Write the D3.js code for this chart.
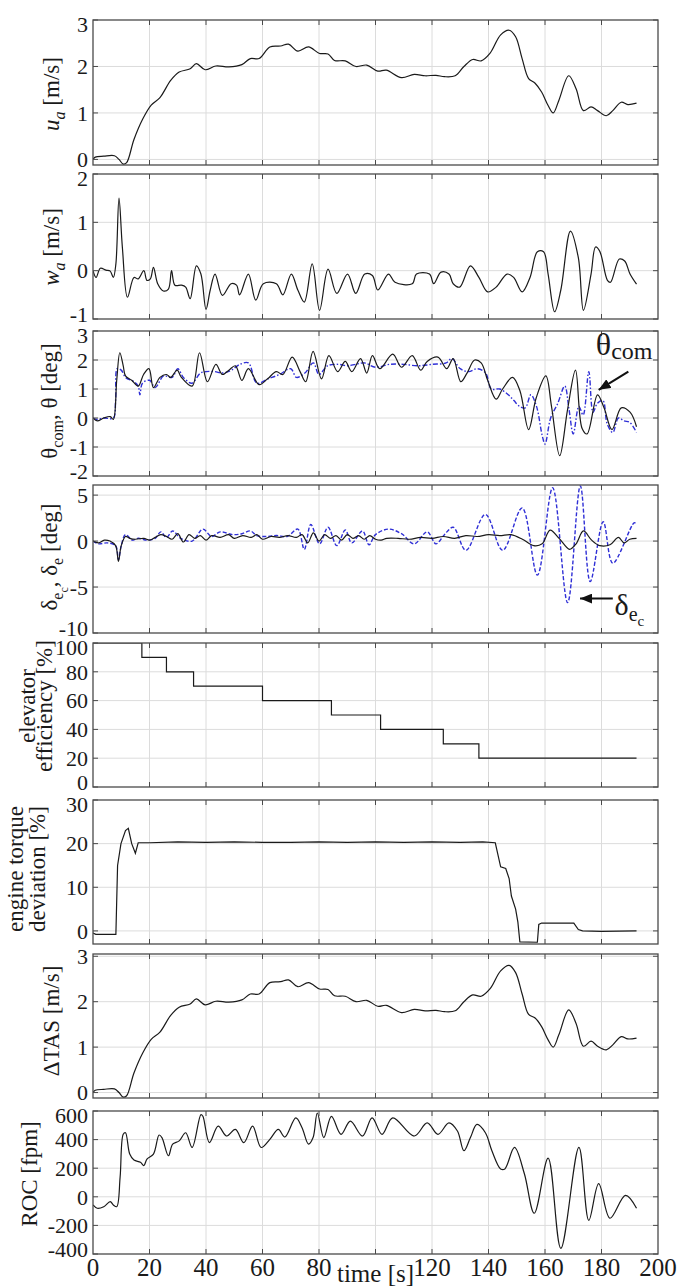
<!DOCTYPE html>
<html>
<head>
<meta charset="utf-8">
<script src="https://cdn.jsdelivr.net/npm/d3@7"></script>
<style>
body{margin:0;background:#fff;}
</style>
</head>
<body>
<svg id="chart" width="678" height="1286"></svg>
<script>
// time axis
let xTicks=[0,20,40,60,80,100,120,140,160,180,200];

// u_a [m/s]
let uaT=[0,0.8,3.8,7.6,9.2,10.7,11.9,14.5,17.6,20.6,23.7,27.5,30.5,34.4,36.6,39.7,43.5,48.1,52.7,55.7,58.8,62.6,66.4,69.2,72.5,76.3,80.2,83.2,85.5,89.3,93.1,96.9,100.8,103.8,109.2,113.7,117.6,121.4,124.4,128.2,131.3,134.4,137.4,140.5,144.3,147.3,149.6,151.9,154.2,156.5,158.8,161.1,162.9,164.9,168.4,171,173.6,176.3,178.6,181.7,184,187,189.3,192.4];
let uaV=[0,0.05,0.07,0.08,0,-0.1,-0.07,0.43,0.87,1.17,1.33,1.70,1.88,1.95,2.06,1.93,2.01,1.99,2.04,2.17,2.17,2.42,2.44,2.48,2.33,2.42,2.28,2.27,2.13,2.12,2.0,2.03,1.9,1.92,1.76,1.83,1.8,1.81,1.78,1.8,2.0,2.15,2.12,2.28,2.68,2.78,2.64,2.17,1.74,1.64,1.45,1.16,1.0,1.27,1.8,1.52,1.05,1.13,1.05,0.94,1.05,1.23,1.18,1.21];

// w_a [m/s]
let waT=[0,1.1,2.6,4.6,6.1,7.2,8.1,9.2,10.4,12.2,14.5,16,18,19.1,20.3,21.4,22.9,24.9,26.7,27.8,29,31.3,32.8,34.4,36.6,38.2,40,41.5,43.2,45.8,48.9,50.8,51.9,55,57.6,60.3,64.9,67.2,70.2,72.5,74.8,77.6,80.2,83.2,86.3,90.1,93,96.2,98.9,100.8,104.6,106.9,113,114.5,119.1,120.6,123.2,126,127.5,129.8,133.6,136.6,139.7,142.7,146.6,148.9,151.9,154.7,157.3,159.5,161.1,163.4,165.6,169,171.8,173.6,176.3,177.9,179.4,182.1,183.2,186.3,188.2,190.1,192.4];
let waV=[0,-0.14,0.05,0.01,-0.01,-0.14,0.14,1.5,0.48,-0.55,-0.14,-0.17,0.0,-0.2,-0.17,0.07,-0.27,-0.42,-0.38,0.0,-0.3,-0.3,-0.34,-0.58,0.1,-0.07,-0.8,-0.4,-0.07,-0.51,-0.27,-0.3,-0.5,-0.07,-0.61,-0.27,-0.27,-0.5,-0.07,-0.4,-0.65,0.14,-0.82,0.03,-0.47,-0.07,-0.47,-0.07,-0.1,-0.4,-0.07,-0.24,-0.27,-0.07,-0.07,-0.27,-0.03,-0.07,-0.27,-0.34,0.1,-0.14,-0.44,-0.34,-0.07,-0.14,-0.44,-0.14,0.39,0.39,-0.07,-0.85,-0.4,0.82,0.27,-0.82,-0.07,0.49,0.4,-0.2,-0.24,0.24,0.2,-0.07,-0.28];

// theta (solid) and theta_com (blue) [deg]
let thT=[0,1.5,3.8,6.1,7.2,8.4,9.5,10.7,11.5,13.7,16,17.9,19.8,21.4,23.7,26,27.5,29.8,31.3,35.1,37.7,40.5,43.5,45.8,48.1,50.4,52.7,55,58.8,61.8,64.9,67.2,70.5,73.3,75.3,77.9,80.9,83.5,86.6,89.3,91.6,94.7,96.9,98.9,101.5,106.1,109.2,113,116,118.3,122.1,125.2,127.5,130.2,132.4,135.1,137.4,139.7,142.7,145,148.5,151.1,154.2,156.9,160.3,162.3,165.2,168,170.8,173.1,174.9,178.6,180.9,183.7,187,190.1,192.4];
let thV=[0,-0.1,0,0.05,-0.05,1.3,2.25,1.8,1.45,1.3,1.1,1.5,1.7,1.05,1.4,1.5,1.4,1.65,1.4,1.1,2.25,1.25,1.85,1.5,1.65,1.8,1.3,1.7,1.15,1.35,1.6,1.5,2.1,1.6,1.25,2.3,1.35,2.15,1.6,1.95,1.6,2.05,1.55,2.15,1.7,2.2,1.75,2.15,1.65,1.95,2.1,1.7,2.05,1.25,1.55,2.0,1.9,1.3,0.65,1.0,1.4,0.95,-0.4,0.7,1.45,0.4,-1.3,0.3,1.65,-0.35,-0.55,0.8,0.35,-0.4,0.35,0.2,-0.3];
let thcT=[0,1.5,3.8,7.2,8,8.6,10,11.5,14.5,16,16.6,17.5,20,22,25,28,30,32,35,38,40,43,46,49,52,55,58,62,66,70,72,75,78,80,83,87,90,93,96,100,105,110,115,120,125,127,130,133,136,139,141,144,147,149,151,153,155,157,159,160,162,164.5,167,168.5,170,172,173.5,175.5,177,178.5,180.5,182,184,186,188,190,192.4];
let thcV=[0,-0.05,0,0,0.6,1.7,1.65,1.4,1.25,1.1,0.8,1.2,1.3,1.05,1.45,1.4,1.7,1.4,1.2,1.55,1.6,1.6,1.55,1.65,1.85,1.9,1.2,1.35,1.5,1.7,1.4,1.55,1.9,1.5,1.8,1.85,1.8,1.85,1.9,1.75,1.85,1.85,1.8,1.85,1.9,2.05,1.7,1.6,1.7,1.55,1.0,1.0,0.8,0.6,0.4,0.35,0.8,0.4,-0.6,-0.9,0.0,0.5,1.1,0.3,-0.55,0.4,0.1,1.6,0.2,0.5,0.6,-0.2,-0.5,0.0,-0.1,-0.15,-0.5];

// delta_e (solid) and delta_ec (blue) [deg]
let deT=[0,2,4,6,8,9,10,11.5,13,15,18,20,22,24,26,28,30,32,34,36,38,40,42,45,48,50,53,56,58,60,63,66,69,72,74,76,78,80,82,84,86,88,90,92,94,96,98,100,102,104,108,112,116,120,124,128,132,136,140,144,148,152,156,159,161.8,165,168.7,171,173.6,176.5,179.4,183,186,188,190,192.4];
let deV=[0,-0.2,0.1,0,-0.5,-2.2,-0.5,0.5,0.3,0.2,0.3,0.1,0.4,0.7,0.5,0.2,0.8,-0.1,0.7,0.3,0.6,0.1,0.6,0.4,0.7,0.3,0.6,0.4,0.7,0.2,0.5,0.4,0.6,0.4,0.7,-0.2,0.9,0,0.7,0.3,0.6,0.1,0.7,0.3,0.6,0.2,0.6,0.2,0.1,0.3,0.3,0.2,0.4,0.3,0.5,0.3,0.6,0.5,0.7,0.6,0.7,0.2,-0.5,-0.3,1.2,0.3,-0.9,-0.3,1.1,0.1,-0.5,-0.4,0.4,-0.2,0.2,0.3];
let decT=[0,2,5,8,9,10,11.5,14,16,19,22,24,26,28.2,31,35.1,38.9,42,45,49.6,52.7,55.7,58,61.8,65,68.7,72.5,74.8,77.1,80.2,83.2,86.3,89.3,91.6,95.4,97.7,100,104.6,109.2,113.7,118.3,121.4,124.4,127.5,132,138.9,145,151.9,157.3,162.7,168,172.5,176,180.6,184,191.6,192.4];
let decV=[0,-0.3,-0.2,-0.5,-2.0,-0.5,0.7,0.1,0.3,0.1,0.3,1.0,0.4,1.1,0.3,0.0,1.3,0.5,1.0,0.7,0.8,1.1,0.6,0.5,0.6,0.5,1.3,-0.9,1.8,-0.3,1.5,-0.5,1.2,-0.2,1.1,-0.4,0.7,1.3,0.8,-0.3,1.0,-0.3,0.7,1.5,-1.0,2.9,-1.0,3.6,-3.7,5.8,-6.7,6.0,-4.4,2.1,-2.4,2.0,1.8];

// elevator efficiency [%]
let effT=[0,17.3,26,35.6,60,84.4,101.8,124,136.6,192.4];
let effV=[100,90,80,70,60,50,40,30,20,20];

// engine torque deviation [%]
let torT=[0,1,4,8.1,8.7,9.9,11.5,12.5,13.7,15,16,20,30,40,50,60,70,80,90,100,110,120,130,138,142.4,144.3,146.1,147.3,148.1,149.6,150.4,151.1,157.3,157.8,158.8,170.2,171.8,173.3,180,192.4];
let torV=[-0.5,-0.8,-0.8,-0.8,15,20,23,23.5,20,17.8,20.2,20.2,20.4,20.3,20.4,20.3,20.3,20.4,20.3,20.4,20.3,20.4,20.3,20.4,20.2,14.7,14.3,12,8,5,2,-2.5,-2.6,1.5,1.8,1.8,0.3,0.0,-0.1,0.0];

// delta TAS [m/s]
let tasT=uaT;
let tasV=[0,0.05,0.07,0.08,0,-0.1,-0.07,0.43,0.87,1.17,1.33,1.70,1.88,1.95,2.06,1.93,2.01,1.99,2.04,2.17,2.17,2.42,2.44,2.48,2.33,2.42,2.28,2.27,2.13,2.12,2.0,2.03,1.9,1.92,1.76,1.83,1.8,1.81,1.78,1.8,2.0,2.15,2.12,2.28,2.68,2.8,2.64,2.17,1.72,1.64,1.45,1.16,1.0,1.27,1.82,1.52,1.02,1.13,1.02,0.94,1.05,1.23,1.18,1.2];

// ROC [fpm]
let rocT=[0,1.5,3.8,6.1,7.2,8.4,9.6,10.7,11.5,13,14.5,16.8,18,19.1,21.4,23.4,24.4,26.7,28.2,30.5,32.8,35.1,38.2,38.9,41.2,44.3,47.3,50.4,53.4,56.5,59.5,62.6,65.6,67.9,71.8,74,76.3,77.9,79.4,81.7,84.4,87.8,91.1,95.4,98.8,102.3,106.1,113.7,118.3,122.1,126,129,131.3,133.6,135.9,138.9,141.2,144.3,145.8,149.2,152.7,156.2,161.1,165.6,172,175.5,179,183,188.5,192.4];
let rocV=[-57,-80,-69,-34,-57,-69,138,437,448,299,257,241,218,264,299,432,414,287,368,391,448,345,575,563,379,494,425,471,379,494,345,402,471,418,552,483,368,414,586,414,563,437,529,425,552,437,552,425,517,437,517,460,322,414,506,448,322,195,195,345,161,-115,270,-360,345,-165,92,-150,10,-80];

let blue="#2f2fd6";
let font="'Liberation Serif','Times New Roman','DejaVu Serif',serif";
let left=93, right=658;

let panels=[
  {top:20,bottom:165,domain:[-0.12,3],ticks:[0,1,2,3],cy:94,
   title:[{x:59,parts:[{s:"u",it:1},{s:"a",it:1,sub:1},{s:" [m/s]"}]}],
   series:[{t:uaT,v:uaV}]},
  {top:174,bottom:319,domain:[-1,2],ticks:[-1,0,1,2],cy:247,
   title:[{x:59,parts:[{s:"w",it:1},{s:"a",it:1,sub:1},{s:" [m/s]"}]}],
   series:[{t:waT,v:waV}]},
  {top:331,bottom:476,domain:[-2,3],ticks:[-2,-1,0,1,2,3],cy:401,
   title:[{x:57,parts:[{s:"θ"},{s:"com",sub:1},{s:", θ [deg]"}]}],
   series:[{t:thcT,v:thcV,color:blue,dash:"5,2,1.5,2"},{t:thT,v:thV}]},
  {top:485,bottom:633,domain:[-10,6.1],ticks:[-10,-5,0,5],cy:557,
   title:[{x:57,parts:[{s:"δ"},{s:"e",sub:1},{s:"c",sub:2},{s:", δ"},{s:"e",sub:1},{s:" [deg]"}]}],
   series:[{t:decT,v:decV,color:blue,dash:"4,2"},{t:deT,v:deV}]},
  {top:643,bottom:787,domain:[0,100],ticks:[0,20,40,60,80,100],cy:706,
   title:[{x:35,parts:[{s:"elevator"}]},{x:52,parts:[{s:"efficiency [%]"}]}],
   series:[{t:effT,v:effV,curve:d3.curveStepAfter}]},
  {top:800,bottom:944,domain:[-3,30],ticks:[0,10,20,30],cy:869,
   title:[{x:23,parts:[{s:"engine torque"}]},{x:45,parts:[{s:"deviation [%]"}]}],
   series:[{t:torT,v:torV,curve:d3.curveLinear}]},
  {top:954,bottom:1098,domain:[-0.12,3.05],ticks:[0,1,2,3],cy:1021,
   title:[{x:59,parts:[{s:"ΔTAS [m/s]"}]}],
   series:[{t:tasT,v:tasV}]},
  {top:1111,bottom:1254,domain:[-400,600],ticks:[-400,-200,0,200,400,600],cy:1174,
   title:[{x:37,parts:[{s:"ROC [fpm]"}]}],
   series:[{t:rocT,v:rocV}]}
];

const svg=d3.select("#chart").attr("font-family",font).style("font-family",font);
const x=d3.scaleLinear().domain([0,200]).range([left,right]);

svg.append("rect").attr("width",678).attr("height",1286).attr("fill","#fff");

const defs=svg.append("defs");
defs.append("marker")
    .attr("id","head")
    .attr("viewBox","0 0 12 10")
    .attr("refX",12).attr("refY",5)
    .attr("markerWidth",12).attr("markerHeight",10)
    .attr("markerUnits","userSpaceOnUse")
    .attr("orient","auto")
    .append("path").attr("d","M0,0L12,5L0,10z").attr("fill","#111");

function drawTitle(g,line,cy){
  let t=g.append("text")
         .attr("transform","translate("+line.x+","+cy+") rotate(-90)")
         .attr("text-anchor","middle")
         .attr("font-family",font)
         .attr("fill","#1a1a1a")
         .style("font-size","23px");
  let prev=0;
  line.parts.forEach((p) => {
    let lvl=p.sub||0;
    let off=[0,6,11][lvl];
    t.append("tspan")
     .attr("dy",off-prev)
     .style("font-size",[23,16,12][lvl]+"px")
     .style("font-style",p.it?"italic":"normal")
     .text(p.s);
    prev=off;
  });
}

panels.forEach((p,i) => {
  const y=d3.scaleLinear().domain(p.domain).range([p.bottom,p.top]);
  p.y=y;
  const g=svg.append("g");

  defs.append("clipPath").attr("id","clip"+i)
      .append("rect").attr("x",left).attr("y",p.top)
      .attr("width",right-left).attr("height",p.bottom-p.top);

  // grid
  g.selectAll(".vg").data(xTicks.filter(d => d>0 && d<200)).enter()
   .append("line").attr("x1",d => x(d)).attr("x2",d => x(d))
   .attr("y1",p.top).attr("y2",p.bottom)
   .attr("stroke","#dcdcdc").attr("stroke-width",1);
  g.selectAll(".hg").data(p.ticks.filter(d => y(d)>p.top+1 && y(d)<p.bottom-1)).enter()
   .append("line").attr("x1",left).attr("x2",right)
   .attr("y1",d => y(d)).attr("y2",d => y(d))
   .attr("stroke","#dcdcdc").attr("stroke-width",1);

  // series
  p.series.forEach((s) => {
    let pts=d3.zip(s.t,s.v);
    let line=d3.line()
               .x(d => x(d[0]))
               .y(d => y(d[1]))
               .curve(s.curve||d3.curveCatmullRom.alpha(0.5));
    g.append("path").datum(pts)
     .attr("d",line)
     .attr("fill","none")
     .attr("clip-path","url(#clip"+i+")")
     .attr("stroke",s.color||"#1a1a1a")
     .attr("stroke-width",s.color?1.4:1.2)
     .attr("stroke-dasharray",s.dash||null);
  });

  // box
  g.append("rect").attr("x",left).attr("y",p.top)
   .attr("width",right-left).attr("height",p.bottom-p.top)
   .attr("fill","none").attr("stroke","#4a4a4a").attr("stroke-width",1.3);

  // inner ticks
  let inner=xTicks.filter(d => d>0 && d<200);
  g.selectAll(".tt").data(inner).enter().append("line")
   .attr("x1",d => x(d)).attr("x2",d => x(d)).attr("y1",p.top).attr("y2",p.top+5)
   .attr("stroke","#4a4a4a");
  g.selectAll(".tb").data(inner).enter().append("line")
   .attr("x1",d => x(d)).attr("x2",d => x(d)).attr("y1",p.bottom).attr("y2",p.bottom-5)
   .attr("stroke","#4a4a4a");
  g.selectAll(".tl").data(p.ticks).enter().append("line")
   .attr("x1",left).attr("x2",left+5).attr("y1",d => y(d)).attr("y2",d => y(d))
   .attr("stroke","#4a4a4a");
  g.selectAll(".tr").data(p.ticks).enter().append("line")
   .attr("x1",right).attr("x2",right-5).attr("y1",d => y(d)).attr("y2",d => y(d))
   .attr("stroke","#4a4a4a");

  // tick labels, the ones on the box edge pulled slightly inside
  g.selectAll(".yl").data(p.ticks).enter().append("text")
   .attr("x",88)
   .attr("y",d => {
     let yy=y(d);
     if(yy<=p.top+1) yy+=4;
     if(yy>=p.bottom-8) yy=Math.min(yy,p.bottom-5);
     return yy;
   })
   .attr("dy","0.35em")
   .attr("text-anchor","end")
   .attr("font-family",font)
   .attr("fill","#1a1a1a")
   .style("font-size","22px")
   .text(d => String(d));

  p.title.forEach((line) => drawTitle(g,line,p.cy));
});

// x tick labels on bottom panel
svg.selectAll(".xl").data(xTicks.filter(d => d!==100)).enter().append("text")
   .attr("x",d => x(d)).attr("y",1276)
   .attr("text-anchor","middle")
   .attr("font-family",font).attr("fill","#1a1a1a")
   .style("font-size","25px")
   .text(d => String(d));
svg.append("text").attr("x",x(100)).attr("y",1282)
   .attr("text-anchor","middle")
   .attr("font-family",font).attr("fill","#1a1a1a")
   .style("font-size","25px")
   .text("time [s]");

// annotations
let p3=panels[2], p4=panels[3];
svg.append("line")
   .attr("x1",x(189.5)).attr("y1",p3.y(1.6))
   .attr("x2",x(179)).attr("y2",p3.y(0.97))
   .attr("stroke","#111").attr("stroke-width",2).attr("marker-end","url(#head)");
let tc=svg.append("text").attr("x",x(178)).attr("y",p3.y(2.17))
   .attr("font-family",font).attr("fill","#1a1a1a").style("font-size","32px");
tc.append("tspan").text("θ");
tc.append("tspan").attr("dy",4).style("font-size","24px").text("com");

svg.append("line")
   .attr("x1",x(184)).attr("y1",p4.y(-6.26))
   .attr("x2",x(172.4)).attr("y2",p4.y(-6.26))
   .attr("stroke","#111").attr("stroke-width",2).attr("marker-end","url(#head)");
let td=svg.append("text").attr("x",x(184.6)).attr("y",p4.y(-8.0))
   .attr("font-family",font).attr("fill","#1a1a1a").style("font-size","30px");
td.append("tspan").text("δ");
td.append("tspan").attr("dy",6).style("font-size","20px").text("e");
td.append("tspan").attr("dy",5).style("font-size","15px").text("c");
</script>
</body>
</html>
